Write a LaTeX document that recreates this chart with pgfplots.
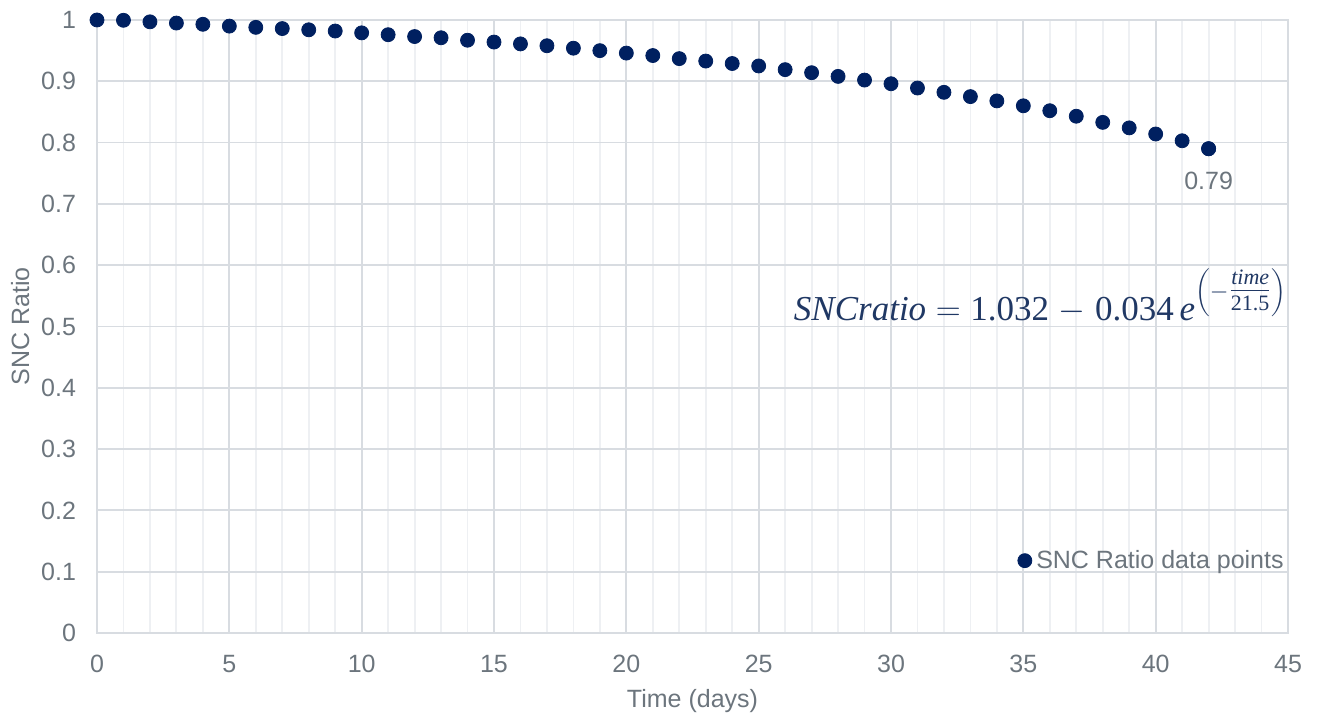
\documentclass[border=0pt]{standalone}
\usepackage{pgfplots}
\pgfplotsset{compat=1.18}
\usepackage{fontspec}
\setmainfont{Liberation Sans}
\newfontfamily\eqfont{Liberation Serif}

\definecolor{navy}{RGB}{0,32,96}
\definecolor{eqblue}{RGB}{32,56,100}
\definecolor{ticktext}{RGB}{108,117,125}
\definecolor{majorgrid}{RGB}{216,220,225}
\definecolor{minorgrid}{RGB}{238,240,243}

\begin{document}
\begin{tikzpicture}[x=1pt,y=1pt]
% page frame (1 px = 0.5 pt)
\path[use as bounding box] (-48.5,-41.5) rectangle (611.5,316.5);
\begin{axis}[
  at={(0,0)}, anchor=south west,
  scale only axis,
  width=595.5pt, height=306.5pt,
  xmin=0, xmax=45, ymin=0, ymax=1,
  xtick={0,5,...,45},
  minor x tick num=4,
  ytick={0,0.1,...,1},
  grid=both,
  major grid style={draw=majorgrid, line width=0.9pt},
  minor grid style={draw=minorgrid, line width=0.9pt},
  axis line style={draw=majorgrid, line width=1pt},
  tick style={draw=none},
  font=\fontsize{12.5}{15}\selectfont,
  tick label style={text=ticktext},
  /pgf/number format/assume math mode=true,
  yticklabel style={/pgf/number format/fixed, /pgf/number format/precision=1, xshift=-7pt},
  xticklabel style={yshift=-7.5pt},
  xlabel={Time (days)},
  ylabel={SNC Ratio},
  label style={text=ticktext},
  xlabel style={yshift=-1.5pt},
  ylabel style={yshift=-1pt},
  legend style={
    at={(axis cs:45,0.118)}, anchor=east,
    draw=none, fill=none,
    font=\fontsize{12.5}{15}\selectfont, text=ticktext,
    inner sep=0pt,
  },
  legend cell align=left,
  legend image code/.code={\fill[navy] (0.1cm,0cm) circle (3.5pt);},
  clip=false,
]
\addplot[only marks, mark=*, mark size=3.5pt, navy, mark options={draw=navy, fill=navy}]
coordinates {
(0,1.000) (1,0.9995) (2,0.997) (3,0.995) (4,0.993) (5,0.990)
(6,0.988) (7,0.986) (8,0.984) (9,0.982) (10,0.979) (11,0.976)
(12,0.973) (13,0.971) (14,0.967) (15,0.964) (16,0.961) (17,0.958)
(18,0.954) (19,0.950) (20,0.946) (21,0.942) (22,0.937) (23,0.933)
(24,0.929) (25,0.925) (26,0.919) (27,0.914) (28,0.908) (29,0.902)
(30,0.896) (31,0.889) (32,0.882) (33,0.875) (34,0.868) (35,0.860)
(36,0.852) (37,0.843) (38,0.833) (39,0.824) (40,0.814) (41,0.803)
(42,0.79)
};
\addlegendentry{SNC Ratio data points}

% value label of the last point
\addplot[only marks, mark=*, mark size=3.5pt, navy, forget plot,
  nodes near coords, point meta=explicit symbolic,
  every node near coord/.append style={anchor=north, yshift=-8pt,
    text=ticktext, font=\fontsize{12.5}{15}\selectfont}]
coordinates {(42,0.79) [0.79]};

% fitted model
\node[anchor=east, inner sep=0pt, text=eqblue]
  at (axis cs:45,0.55)
  {\eqfont\fontsize{17.5}{21}\selectfont
   $\mbox{\itshape SNCratio} \;{=}\; \mbox{1.032} \;{-}\; \mbox{0.034}\,\mbox{\itshape e}^{\left(\scriptstyle-\textstyle\frac{\mbox{\fontsize{11}{12}\selectfont\itshape time}}{\mbox{\fontsize{11}{12}\selectfont 21.5}}\right)}$};
\end{axis}
\end{tikzpicture}
\end{document}
